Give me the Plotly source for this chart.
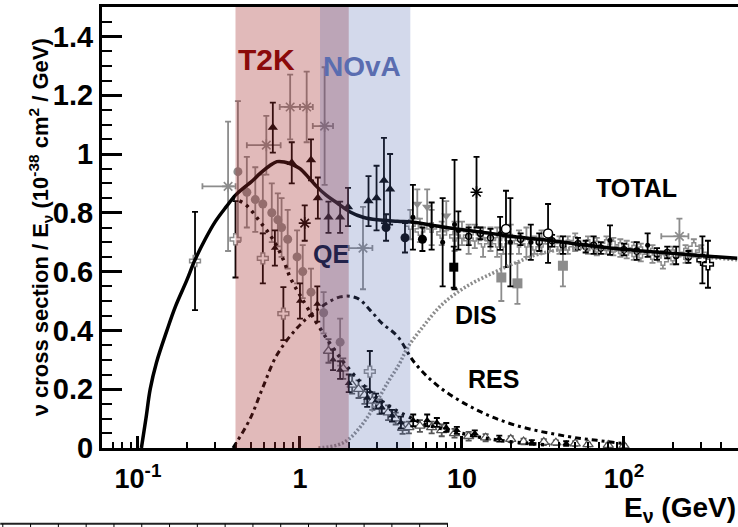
import plotly.graph_objects as go

# ---------------- model curves (sigma/E in 1e-38 cm^2/GeV) ----------------
E_total = [0.105, 0.112, 0.119, 0.13, 0.151, 0.17, 0.2, 0.225, 0.26, 0.3, 0.35, 0.4, 0.45, 0.5,
           0.57, 0.65, 0.72, 0.8, 0.9, 1.0, 1.13, 1.27, 1.45, 1.69, 2.04, 2.45, 3.0, 4.0, 5.0,
           7.0, 10, 15, 20, 30, 50, 82, 130, 200, 300, 500]
xs_total = [0.0, 0.1, 0.2, 0.29, 0.4, 0.48, 0.57, 0.64, 0.71, 0.77, 0.82, 0.86, 0.885, 0.905,
            0.935, 0.96, 0.974, 0.973, 0.964, 0.95, 0.92, 0.889, 0.86, 0.834, 0.803, 0.785, 0.776,
            0.771, 0.768, 0.755, 0.742, 0.73, 0.72, 0.71, 0.695, 0.68, 0.67, 0.662, 0.654, 0.645]

E_qe = [0.38, 0.457, 0.566, 0.68, 0.79, 0.87, 1.0, 1.27, 1.6, 2.0, 2.5, 3.0, 4.0, 4.77, 6.0,
        8.4, 12, 17, 25, 35]
xs_qe = [0.85, 0.83, 0.77, 0.71, 0.64, 0.58, 0.52, 0.425, 0.34, 0.27, 0.21, 0.17, 0.125, 0.104,
         0.08, 0.06, 0.04, 0.026, 0.016, 0.01]

E_res = [0.386, 0.49, 0.59, 0.72, 0.96, 1.27, 1.77, 2.25, 2.7, 3.2, 4.0, 5.1, 7.3, 12.3, 21.5,
         44, 68, 100]
xs_res = [0.0, 0.097, 0.206, 0.316, 0.408, 0.469, 0.514, 0.51, 0.47, 0.425, 0.38, 0.29, 0.206,
          0.13, 0.077, 0.04, 0.026, 0.015]

E_dis = [1.3, 1.7, 2.0, 2.5, 3.0, 3.5, 4.1, 4.6, 5.7, 7.6, 10.7, 15.5, 21.5, 30, 50, 80, 150,
         300, 500]
xs_dis = [0.0, 0.01, 0.03, 0.09, 0.16, 0.225, 0.285, 0.34, 0.41, 0.49, 0.55, 0.595, 0.63, 0.66,
          0.68, 0.675, 0.66, 0.65, 0.64]

# ---------------- measurements ----------------
qe_gc_E = [0.414, 0.47, 0.53, 0.59, 0.67, 0.73, 0.77, 0.84, 0.96, 1.04, 1.17, 1.4, 1.77]
qe_gc_y = [0.94, 0.87, 0.845, 0.83, 0.80, 0.776, 0.75, 0.71, 0.65, 0.60, 0.53, 0.46, 0.36]
qe_gc_err = [0.24, 0.12, 0.11, 0.10, 0.10, 0.09, 0.10, 0.10, 0.09, 0.09, 0.08, 0.07, 0.08]

tri_E = [0.68, 0.89, 1.17, 1.29, 1.5, 1.77, 1.98, 2.65, 2.97, 3.3, 3.6]
tri_y = [1.09, 0.97, 0.98, 0.85, 0.785, 0.785, 0.82, 0.84, 0.85, 0.91, 0.88]
tri_err = [0.085, 0.07, 0.07, 0.07, 0.053, 0.053, 0.065, 0.085, 0.11, 0.145, 0.12]

gstar_E = [0.36, 0.62, 0.87, 1.1, 1.42, 2.45, 220]
gstar_y = [0.89, 1.03, 1.16, 1.16, 1.095, 0.68, 0.72]
gstar_err = [0.22, 0.10, 0.11, 0.12, 0.20, 0.14, 0.06]
gstar_lo = [0.25, 0.47, 0.75, 1.0, 1.2, 2.0, 170]
gstar_hi = [0.40, 0.76, 1.0, 1.2, 1.6, 2.8, 250]

bstar_E = [1.07, 12.3]
bstar_y = [0.765, 0.87]
bstar_err = [0.06, 0.12]

bcirc_E = [3.4, 4.45, 5.7]
bcirc_y = [0.75, 0.715, 0.71]
bcirc_err = [0.045, 0.05, 0.04]

bsq_E = [8.9]
bsq_y = [0.615]
bsq_err = [0.07]

gsq_E = [17.5, 22, 42]
gsq_y = [0.58, 0.56, 0.62]
gsq_err = [0.08, 0.07, 0.07]

gdtri_E = [5.3, 6.1, 8.0]
gdtri_y = [0.83, 0.82, 0.79]
gdtri_err = [0.05, 0.06, 0.05]

ocirc_E = [18.7, 34]
ocirc_y = [0.745, 0.73]
ocirc_err = [0.13, 0.10]

gcross_E = [50, 60, 68, 78, 86, 95, 104, 115, 127, 150, 174, 200, 240, 270, 300]
gcross_y = [0.70, 0.69, 0.685, 0.69, 0.685, 0.68, 0.675, 0.67, 0.665, 0.66, 0.64, 0.655, 0.66,
            0.68, 0.66]
gcross_err = [0.03, 0.03, 0.03, 0.03, 0.03, 0.03, 0.03, 0.03, 0.03, 0.03, 0.03, 0.03, 0.03,
              0.03, 0.03]

bcross_E = [305, 330]
bcross_y = [0.64, 0.625]
bcross_err = [0.08, 0.08]

gmid_E = [4.8, 5.5, 6.5, 7.5, 9, 10, 11, 12, 13.5, 15, 16.5, 18, 20, 22.5, 25, 28, 31, 35, 40, 45]
gmid_y = [0.76, 0.74, 0.75, 0.73, 0.72, 0.73, 0.71, 0.72, 0.70, 0.71, 0.70, 0.70, 0.71, 0.70,
          0.70, 0.69, 0.70, 0.70, 0.69, 0.69]
gmid_err = [0.05, 0.04, 0.06, 0.04, 0.05, 0.04, 0.05, 0.04, 0.05, 0.04, 0.05, 0.04, 0.05, 0.04,
            0.05, 0.03, 0.04, 0.03, 0.03, 0.03]

bbar_E = [4.98, 6.5, 7.6, 9.0, 9.5, 17.2, 19.9, 26.6, 82, 140]
bbar_y = [0.785, 0.755, 0.70, 0.76, 0.74, 0.73, 0.70, 0.70, 0.707, 0.69]
bbar_err = [0.11, 0.08, 0.15, 0.22, 0.065, 0.056, 0.15, 0.06, 0.05, 0.04]

bdense_E = [11, 13, 15, 23, 30, 36, 42, 52, 58, 65, 72, 100, 120, 160, 185, 210, 250]
bdense_y = [0.72, 0.73, 0.715, 0.71, 0.70, 0.705, 0.69, 0.695, 0.685, 0.69, 0.68, 0.675, 0.67,
            0.66, 0.665, 0.655, 0.65]
bdense_err = [0.03, 0.02, 0.03, 0.02, 0.03, 0.02, 0.03, 0.02, 0.02, 0.03, 0.02, 0.02, 0.03,
              0.02, 0.02, 0.03, 0.02]

qet_E = [0.7, 1.0, 1.28, 1.6, 1.77, 2.0, 2.6, 2.95, 3.2, 3.7, 4.2, 5.0, 6.1, 7.0, 8.0, 9.3, 12,
         17, 27, 44]
qet_y = [0.68, 0.50, 0.49, 0.30, 0.265, 0.22, 0.17, 0.16, 0.138, 0.11, 0.087, 0.094, 0.094,
         0.087, 0.07, 0.06, 0.05, 0.032, 0.019, 0.015]
qet_err = [0.06, 0.06, 0.06, 0.035, 0.03, 0.03, 0.03, 0.025, 0.02, 0.02, 0.02, 0.02, 0.02,
           0.015, 0.015, 0.012, 0.01, 0.01, 0.008, 0.008]

qeo_E = [1.5, 1.85, 2.1, 2.3, 2.5, 2.8, 3.1, 3.5, 3.9, 4.3, 4.7, 5.5, 6.5, 7.5, 9, 11, 14, 20,
         24, 32, 38, 50, 60, 80, 100]
qeo_y = [0.33, 0.27, 0.215, 0.2, 0.18, 0.16, 0.14, 0.12, 0.1, 0.068, 0.07, 0.075, 0.07, 0.06,
         0.05, 0.04, 0.035, 0.03, 0.022, 0.02, 0.018, 0.015, 0.012, 0.01, 0.008]
qeo_err = [0.04, 0.035, 0.03, 0.03, 0.03, 0.03, 0.025, 0.025, 0.02, 0.02, 0.02, 0.02, 0.02,
           0.02, 0.015, 0.015, 0.012, 0.01, 0.01, 0.01, 0.008, 0.008, 0.006, 0.006, 0.005]

ocross_E = [0.225, 0.40, 0.59, 0.79, 2.7]
ocross_y = [0.636, 0.71, 0.645, 0.457, 0.26]
ocross_err = [0.167, 0.13, 0.085, 0.09, 0.07]

# experiment flux ranges (GeV)
t2k_range = [0.4, 2.0]
nova_range = [1.33, 4.8]

# axis ticks
x_tickvals = [0.1, 1, 10, 100]
x_ticktext = ["10<sup>-1</sup>", "1", "10", "10<sup>2</sup>"]
y_tickvals = [0, 0.2, 0.4, 0.6, 0.8, 1.0, 1.2, 1.4]
y_ticktext = ["0", "0.2", "0.4", "0.6", "0.8", "1", "1.2", "1.4"]

GREY = "#8c8c8c"
FONT = "Liberation Sans, Arial, Helvetica, sans-serif"

fig = go.Figure()


def points(E, y, err, symbol, size, color, line_color=None, line_w=0, err_color=None,
           xlo=None, xhi=None):
    kw = {}
    if xlo is not None:
        kw["error_x"] = dict(type="data", symmetric=False,
                             array=[h - e for h, e in zip(xhi, E)],
                             arrayminus=[e - l for e, l in zip(E, xlo)],
                             color=err_color or color, thickness=1.8, width=3)
    fig.add_trace(go.Scatter(
        x=E, y=y, mode="markers", showlegend=False,
        marker=dict(symbol=symbol, size=size, color=color,
                    line=dict(color=line_color or color, width=line_w)),
        error_y=dict(type="data", array=err, color=err_color or color, thickness=1.8, width=3),
        **kw))


# grey-toned measurements
points(gmid_E, gmid_y, gmid_err, "cross", 8, "white", GREY, 1.5, GREY)
points(gcross_E, gcross_y, gcross_err, "cross", 9, "white", GREY, 1.5, GREY)
points(gsq_E, gsq_y, gsq_err, "square", 10, GREY)
points(gdtri_E, gdtri_y, gdtri_err, "triangle-down", 9, GREY)
points(qe_gc_E, qe_gc_y, qe_gc_err, "circle", 9, GREY)
points(gstar_E, gstar_y, gstar_err, "asterisk-open", 10, GREY, GREY, 1.6, GREY,
       xlo=gstar_lo, xhi=gstar_hi)
points(qeo_E, qeo_y, qeo_err, "triangle-up", 9, "white", "#555555", 1.3, "#555555")

# black measurements
points(bdense_E, bdense_y, bdense_err, "circle-open", 6, "black", "black", 1.3)
points(bbar_E, bbar_y, bbar_err, "circle", 5, "black")
points(bcirc_E, bcirc_y, bcirc_err, "circle", 9, "black")
points(bsq_E, bsq_y, bsq_err, "square", 9, "black")
points(tri_E, tri_y, tri_err, "triangle-up", 9, "black")
points(bstar_E, bstar_y, bstar_err, "asterisk-open", 10, "black", "black", 1.6)
points(qet_E, qet_y, qet_err, "triangle-up", 7, "black")
points(ocirc_E, ocirc_y, ocirc_err, "circle", 9, "white", "black", 1.5, "black")
points(bcross_E, bcross_y, bcross_err, "cross", 9, "white", "black", 1.5, "black")
points(ocross_E, ocross_y, ocross_err, "cross", 9, "white", GREY, 1.5, "black")

# model curves
fig.add_trace(go.Scatter(x=E_dis, y=xs_dis, mode="lines", showlegend=False,
                         line=dict(color=GREY, width=3.5, dash="2px,2px", shape="spline")))
fig.add_trace(go.Scatter(x=E_res, y=xs_res, mode="lines", showlegend=False,
                         line=dict(color="black", width=3, dash="6px,4px,3px,4px",
                                   shape="spline")))
fig.add_trace(go.Scatter(x=E_qe, y=xs_qe, mode="lines", showlegend=False,
                         line=dict(color="black", width=3.5, dash="3px,5px", shape="spline")))
fig.add_trace(go.Scatter(x=E_total, y=xs_total, mode="lines", showlegend=False,
                         line=dict(color="black", width=3.5, shape="spline")))

# flux bands (shape x given in data units of the log axis)
fig.add_shape(type="rect", xref="x", yref="paper",
              x0=t2k_range[0], x1=t2k_range[1], y0=0, y1=1,
              fillcolor="rgba(165,45,45,0.33)", line_width=0, layer="above")
fig.add_shape(type="rect", xref="x", yref="paper",
              x0=nova_range[0], x1=nova_range[1], y0=0, y1=1,
              fillcolor="rgba(80,105,175,0.25)", line_width=0, layer="above")

# ruled strip along the bottom edge
strip_y = -0.172
fig.add_shape(type="line", xref="paper", yref="paper", x0=-0.160, x1=0.544,
              y0=strip_y, y1=strip_y, line=dict(color="#222222", width=2))
for k in range(17):
    xp = -0.156 + k * 0.0437
    fig.add_shape(type="line", xref="paper", yref="paper", x0=xp, x1=xp,
                  y0=strip_y, y1=strip_y - 0.01, line=dict(color="black", width=1))


def label(text, xp, yp, size, color="black"):
    fig.add_annotation(text=text, xref="paper", yref="paper", x=xp, y=yp, showarrow=False,
                       xanchor="center", yanchor="middle",
                       font=dict(family=FONT, size=size, color=color, weight="bold"))


label("T2K", 0.258, 0.880, 30, "#8b0a0a")
label("NOvA", 0.409, 0.866, 28, "#5a6db0")
label("QE", 0.360, 0.440, 25, "#22224a")
label("TOTAL", 0.840, 0.590, 25)
label("DIS", 0.588, 0.302, 25)
label("RES", 0.615, 0.156, 25)

fig.add_annotation(text="ν cross section / E<sub>ν</sub> (10<sup>-38</sup> cm<sup>2</sup> / GeV)",
                   xref="paper", yref="paper", x=-0.097, y=0.501, textangle=-90,
                   showarrow=False, xanchor="center", yanchor="middle",
                   font=dict(family=FONT, size=22, color="black", weight="bold"))
fig.add_annotation(text="E<sub>ν</sub> (GeV)", xref="paper", yref="paper", x=1.0, y=-0.140,
                   showarrow=False, xanchor="right", yanchor="middle",
                   font=dict(family=FONT, size=28, color="black", weight="bold"))

minor_x = [m * 10.0 ** d for d in (-2, -1, 0, 1, 2) for m in range(2, 10)
           if 0.06 <= m * 10.0 ** d <= 500]

fig.update_layout(
    width=738, height=527,
    margin=dict(l=102, r=0, t=7, b=79),
    paper_bgcolor="white", plot_bgcolor="white",
    font=dict(family=FONT, color="black"),
    xaxis=dict(type="log", range=[-1.222, 2.704], showgrid=False, zeroline=False,
               showline=True, linecolor="black", linewidth=3, mirror=True,
               ticks="inside", ticklen=12, tickwidth=2.5, tickcolor="black",
               tickvals=x_tickvals, ticktext=x_ticktext, ticklabelstandoff=5,
               tickfont=dict(family=FONT, size=27, color="black", weight="bold"),
               minor=dict(tickvals=minor_x, ticks="inside", ticklen=6, tickwidth=2,
                          tickcolor="black", showgrid=False)),
    yaxis=dict(range=[0, 1.5], showgrid=False, zeroline=False,
               showline=True, linecolor="black", linewidth=3, mirror=False,
               ticks="inside", ticklen=20, tickwidth=2.5, tickcolor="black",
               tickvals=y_tickvals, ticktext=y_ticktext,
               tickfont=dict(family=FONT, size=29, color="black", weight="bold"),
               minor=dict(dtick=0.05, ticks="inside", ticklen=10, tickwidth=2,
                          tickcolor="black", showgrid=False)),
)

fig.write_html("out.html")
